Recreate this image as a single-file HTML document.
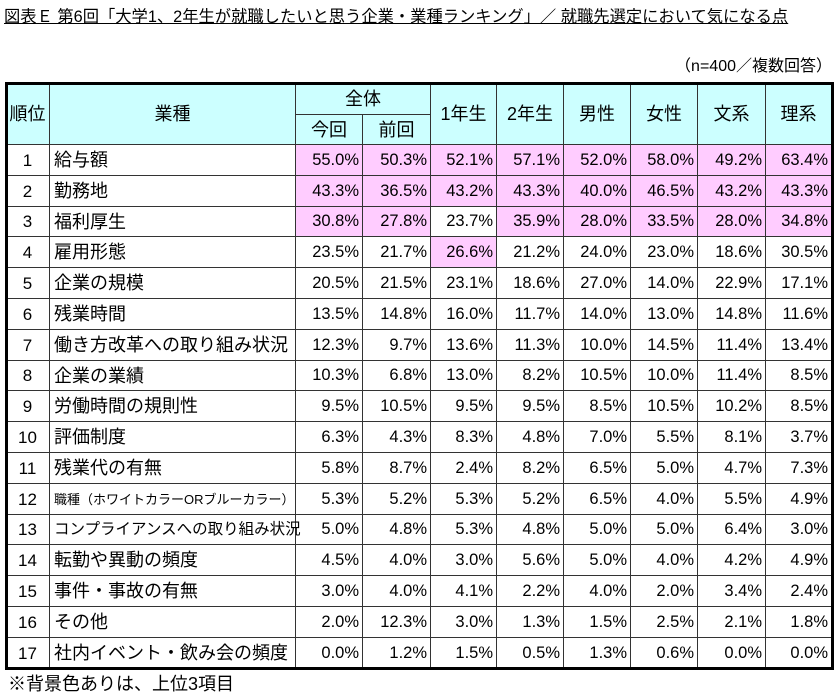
<!DOCTYPE html>
<html><head><meta charset="utf-8"><style>
body{margin:0;width:840px;height:694px;background:#fff;font-family:"Liberation Sans","Noto Sans CJK JP",sans-serif;position:relative;overflow:hidden;color:#000}
.c{position:absolute;box-sizing:border-box;border-right:1px solid #333;border-bottom:1px solid #333;display:flex;align-items:center;font-size:18px;white-space:nowrap;line-height:1}
.h{background:#ccffff;justify-content:center;font-size:18px}
.n{justify-content:flex-end;padding-right:3px;font-size:16.5px}
.p{background:#ffccff}
</style></head><body>
<div style="position:absolute;left:4px;top:3px;font-size:16.3px;text-decoration:underline;white-space:nowrap">図表Ｅ 第6回「大学1、2年生が就職したいと思う企業・業種ランキング」／ 就職先選定において気になる点</div>
<div style="position:absolute;right:8px;top:52px;font-size:16px">（n=400／複数回答）</div>
<div id="tbl"></div>
<div style="position:absolute;left:5px;top:82px;width:829px;height:588px;box-sizing:border-box;border:3px solid #000;pointer-events:none"></div>
<div style="position:absolute;left:8px;top:670px;font-size:18px">※背景色ありは、上位3項目</div>
<script>
const items=["給与額","勤務地","福利厚生","雇用形態","企業の規模","残業時間","働き方改革への取り組み状況","企業の業績","労働時間の規則性","評価制度","残業代の有無","職種（ホワイトカラーORブルーカラー）","コンプライアンスへの取り組み状況","転勤や異動の頻度","事件・事故の有無","その他","社内イベント・飲み会の頻度"];
const cur=[55.0,43.3,30.8,23.5,20.5,13.5,12.3,10.3,9.5,6.3,5.8,5.3,5.0,4.5,3.0,2.0,0.0];
const prev=[50.3,36.5,27.8,21.7,21.5,14.8,9.7,6.8,10.5,4.3,8.7,5.2,4.8,4.0,4.0,12.3,1.2];
const y1=[52.1,43.2,23.7,26.6,23.1,16.0,13.6,13.0,9.5,8.3,2.4,5.3,5.3,3.0,4.1,3.0,1.5];
const y2=[57.1,43.3,35.9,21.2,18.6,11.7,11.3,8.2,9.5,4.8,8.2,5.2,4.8,5.6,2.2,1.3,0.5];
const male=[52.0,40.0,28.0,24.0,27.0,14.0,10.0,10.5,8.5,7.0,6.5,6.5,5.0,5.0,4.0,1.5,1.3];
const female=[58.0,46.5,33.5,23.0,14.0,13.0,14.5,10.0,10.5,5.5,5.0,4.0,5.0,4.0,2.0,2.5,0.6];
const bun=[49.2,43.2,28.0,18.6,22.9,14.8,11.4,11.4,10.2,8.1,4.7,5.5,6.4,4.2,3.4,2.1,0.0];
const ri=[63.4,43.3,34.8,30.5,17.1,11.6,13.4,8.5,8.5,3.7,7.3,4.9,3.0,4.9,2.4,1.8,0.0];
const series=[cur,prev,y1,y2,male,female,bun,ri];
const seriesNames=["current","previous","year1","year2","male","female","humanities","science"];
const xs=[6,50,296,363,431,497,564,631,698,766,832];
const T=document.getElementById('tbl');
function cell(x0,x1,y0,y1_,txt,cls,name){
  const d=document.createElement('div');
  d.className='c '+cls;
  d.style.left=x0+'px';d.style.top=y0+'px';d.style.width=(x1-x0)+'px';d.style.height=(y1_-y0)+'px';
  d.textContent=txt;
  
  
  T.appendChild(d);return d;
}
const top0=83,mid=115,body=145,rh=(668.6-145)/17;
cell(xs[0],xs[1],top0,body,"順位","h","header-rank");
cell(xs[1],xs[2],top0,body,"業種","h","header-item");
cell(xs[2],xs[4],top0,mid,"全体","h","header-total");
cell(xs[2],xs[3],mid,body,"今回","h","header-current");
cell(xs[3],xs[4],mid,body,"前回","h","header-previous");
const hs=["1年生","2年生","男性","女性","文系","理系"];
hs.forEach((t,i)=>cell(xs[4+i],xs[5+i],top0,body,t,"h","header-"+seriesNames[2+i]));
const tops=series.map(s=>{const v=[...s].sort((a,b)=>b-a);return v[2];});
items.forEach((it,r)=>{
  const a=Math.round(body+r*rh),b=Math.round(body+(r+1)*rh);
  const rc=cell(xs[0],xs[1],a,b,String(r+1),"","rank-"+(r+1));rc.style.justifyContent='center';rc.style.fontSize='17px';
  const ic=cell(xs[1],xs[2],a,b,it,"","item-"+(r+1));ic.style.paddingLeft='4px';
  if(it.length>14){ic.style.fontSize=it.length>17?'13px':'15.5px';}
  series.forEach((s,k)=>{
    cell(xs[2+k],xs[3+k],a,b,s[r].toFixed(1)+"%","n"+(s[r]>=tops[k]?" p":""),"value-"+seriesNames[k]+"-"+(r+1));
  });
});
</script>
</body></html>
